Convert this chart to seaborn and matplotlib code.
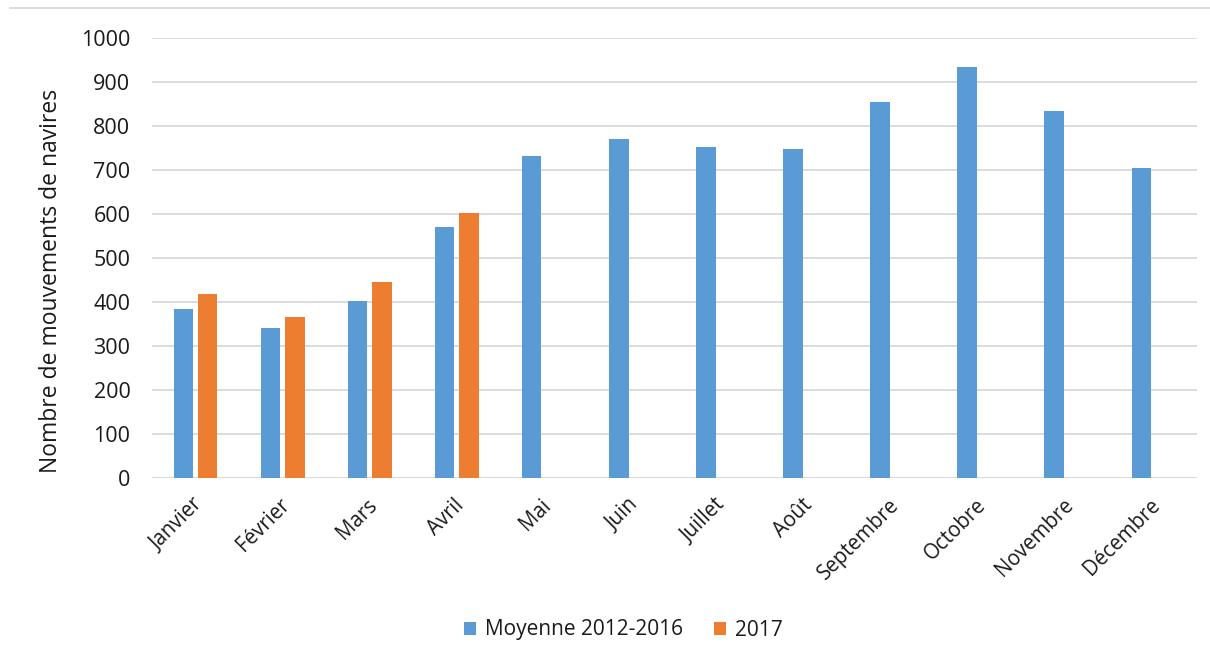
import numpy as np
import pandas as pd
import matplotlib
matplotlib.use("Agg")
import matplotlib.pyplot as plt
import matplotlib.transforms as mtransforms
from matplotlib.lines import Line2D
from matplotlib.patches import Patch
import seaborn as sns

# Monthly ship movements
mois = ["Janvier", "Février", "Mars", "Avril", "Mai", "Juin", "Juillet",
        "Août", "Septembre", "Octobre", "Novembre", "Décembre"]
moyenne_2012_2016 = [385, 341, 402, 570, 731, 771, 753, 748, 854, 934, 834, 704]
annee_2017 = [418, 366, 445, 603, np.nan, np.nan, np.nan, np.nan,
              np.nan, np.nan, np.nan, np.nan]
series = ["Moyenne 2012-2016", "2017"]
couleurs = ["#5B9BD5", "#ED7D31"]
y_ticks = list(range(0, 1001, 100))

df = pd.DataFrame({
    "mois": mois * 2,
    "serie": [series[0]] * len(mois) + [series[1]] * len(mois),
    "valeur": moyenne_2012_2016 + annee_2017,
})

sns.set_theme(style="white")
plt.rcParams["font.family"] = ["Open Sans", "DejaVu Sans"]
txt = "#1a1a1a"

fig = plt.figure(figsize=(12.1, 6.65), dpi=100)
ax = fig.add_axes([152 / 1210, 1 - 478.3 / 665, 1045 / 1210, 440.6 / 665])

sns.barplot(data=df, x="mois", y="valeur", hue="serie", order=mois,
            hue_order=series, palette=couleurs, width=0.56, gap=0.2,
            errorbar=None, linewidth=0, saturation=1, ax=ax, legend=False)

ax.set_ylim(0, 1000)
ax.set_xlim(-0.5, len(mois) - 0.5)
ax.set_yticks(y_ticks)
ax.set_yticklabels([str(v) for v in y_ticks])
ax.yaxis.grid(True, color="#D9D9D9", linewidth=1.3)
ax.set_axisbelow(True)
for s in ax.spines.values():
    s.set_visible(False)
ax.axhline(0, color="#D9D9D9", linewidth=1.3, zorder=0.5)

ax.tick_params(axis="y", length=0, pad=15.5, labelsize=15.5, labelcolor=txt)
ax.tick_params(axis="x", length=0, pad=17, labelsize=14.8, labelcolor=txt)
ax.set_xlabel("")
ax.set_ylabel("Nombre de mouvements de navires", fontsize=16.5, color=txt)
ax.yaxis.set_label_coords(-0.0855, 0.449)

offset = mtransforms.ScaledTranslation(4 / 100, 0, fig.dpi_scale_trans)
for lab in ax.get_xticklabels():
    lab.set_rotation(45)
    lab.set_ha("right")
    lab.set_va("center")
    lab.set_rotation_mode("anchor")
    lab.set_transform(lab.get_transform() + offset)

handles = [Patch(facecolor=c, edgecolor="none") for c in couleurs]
fig.legend(handles, series, loc="center", bbox_to_anchor=(0.515, 1 - 630 / 665),
           ncol=2, frameon=False, fontsize=15, handlelength=0.6,
           handleheight=0.6, handletextpad=0.4, columnspacing=1.5,
           labelcolor=txt)

# chart frame top edge
fig.add_artist(Line2D([10 / 1210, 1.0], [1 - 8 / 665, 1 - 8 / 665],
                      transform=fig.transFigure, color="#D9D9D9", linewidth=1.3))

fig.savefig("out.png", dpi=100)
